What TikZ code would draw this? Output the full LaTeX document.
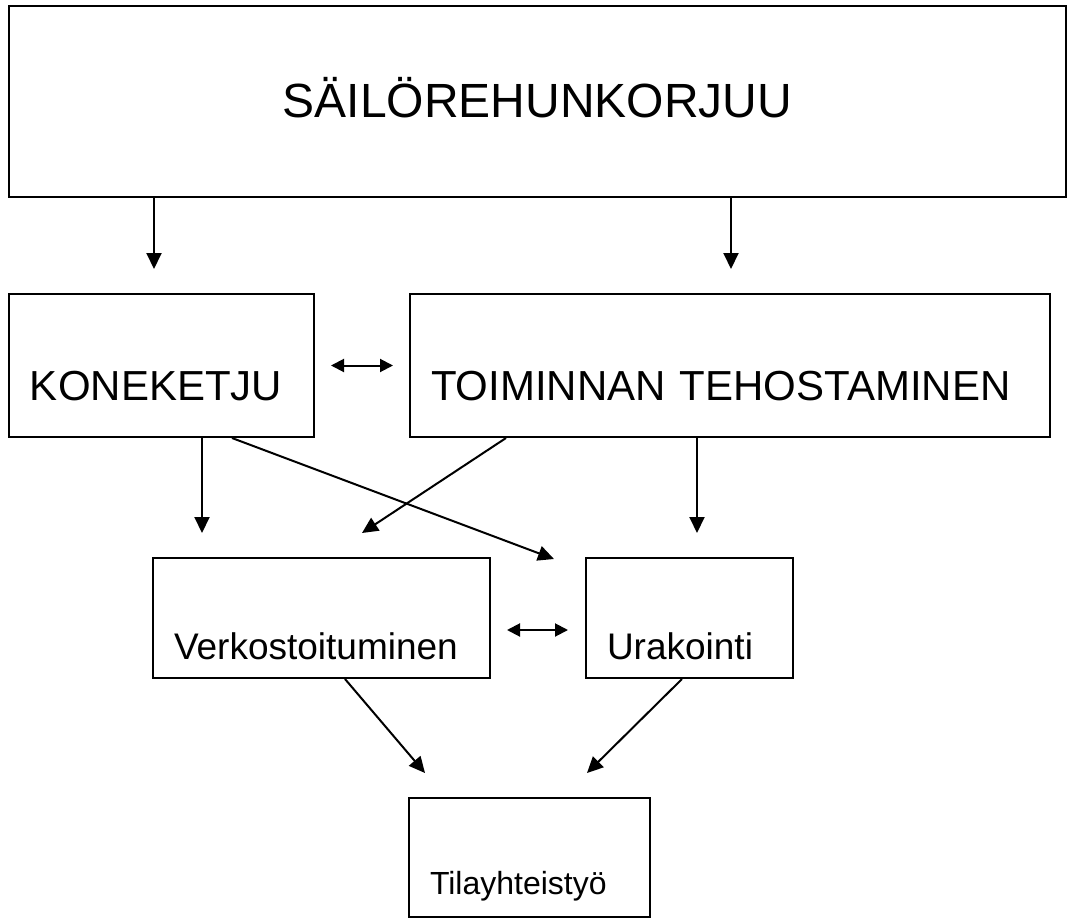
\documentclass[tikz,border=0pt]{standalone}
\usepackage{fontspec}
\setmainfont{Liberation Sans}
\usetikzlibrary{arrows.meta}

\begin{document}
\begin{tikzpicture}[x = 1pt, y = -1pt]
	\tikzstyle{boxStyle}=[draw, line width = 2pt, inner xsep = 21pt, inner ysep = 0pt, align = left]
	\tikzstyle{arrowStyle}=[line width = 2pt, -{Triangle[length = 16pt, width = 15pt]}]
	\tikzstyle{bothStyle}=[line width = 2pt, {Triangle[length = 13pt, width = 13pt]}-{Triangle[length = 13pt, width = 13pt]}]
	\useasboundingbox (0, 0) rectangle (1069, 918);
	% boxes
	\node[boxStyle, line width = 2.5pt, align = center, text width = 1015pt, text height = 111pt, text depth = 80pt, font = \fontsize{48}{58}\selectfont] (harvest) at (537.5, 101.5) {SÄILÖREHUNKORJUU};
	\node[boxStyle, text width = 263pt, text height = 106pt, text depth = 37pt, font = \fontsize{42}{50}\selectfont] (chain) at (161.5, 365.5) {KONEKETJU};
	\node[boxStyle, text width = 598pt, text height = 106pt, text depth = 37pt, font = \fontsize{42}{50}\selectfont] (boost) at (730, 365.5) {TOIMINNAN TEHOSTAMINEN};
	\node[boxStyle, text width = 295pt, text height = 101pt, text depth = 19pt, font = \fontsize{37}{44}\selectfont] (network) at (321.5, 618) {Verkostoituminen};
	\node[boxStyle, text width = 165pt, text height = 101pt, text depth = 19pt, font = \fontsize{37}{44}\selectfont] (contract) at (689.5, 618) {Urakointi};
	\node[boxStyle, text width = 199pt, text height = 97pt, text depth = 22pt, font = \fontsize{32}{38}\selectfont] (farms) at (529.5, 857) {Tilayhteistyö};
	% arrow tips
	\coordinate (chain in) at (154, 269);
	\coordinate (boost in) at (731, 269);
	\coordinate (network in a) at (202, 533);
	\coordinate (network in b) at (362, 533);
	\coordinate (contract in a) at (554, 559);
	\coordinate (contract in b) at (697, 533);
	\coordinate (farms in a) at (425, 773);
	\coordinate (farms in b) at (587, 773);
	% arrows
	\draw[arrowStyle] (harvest.south -| chain in) -- (chain in);
	\draw[arrowStyle] (harvest.south -| boost in) -- (boost in);
	\draw[arrowStyle] (chain.south -| network in a) -- (network in a);
	\draw[arrowStyle] ([xshift = 70.5pt]chain.south) -- (contract in a);
	\draw[arrowStyle] ([xshift = -224pt]boost.south) -- (network in b);
	\draw[arrowStyle] (boost.south -| contract in b) -- (contract in b);
	\draw[arrowStyle] ([xshift = 23.5pt]network.south) -- (farms in a);
	\draw[arrowStyle] ([xshift = -7.5pt]contract.south) -- (farms in b);
	\draw[bothStyle, shorten < = 16pt, shorten > = 16pt] (chain.east) -- (boost.west);
	\draw[bothStyle, shorten < = 16pt, shorten > = 17pt] ([yshift = -12pt]network.east) -- ([yshift = -12pt]contract.west);
\end{tikzpicture}
\end{document}
